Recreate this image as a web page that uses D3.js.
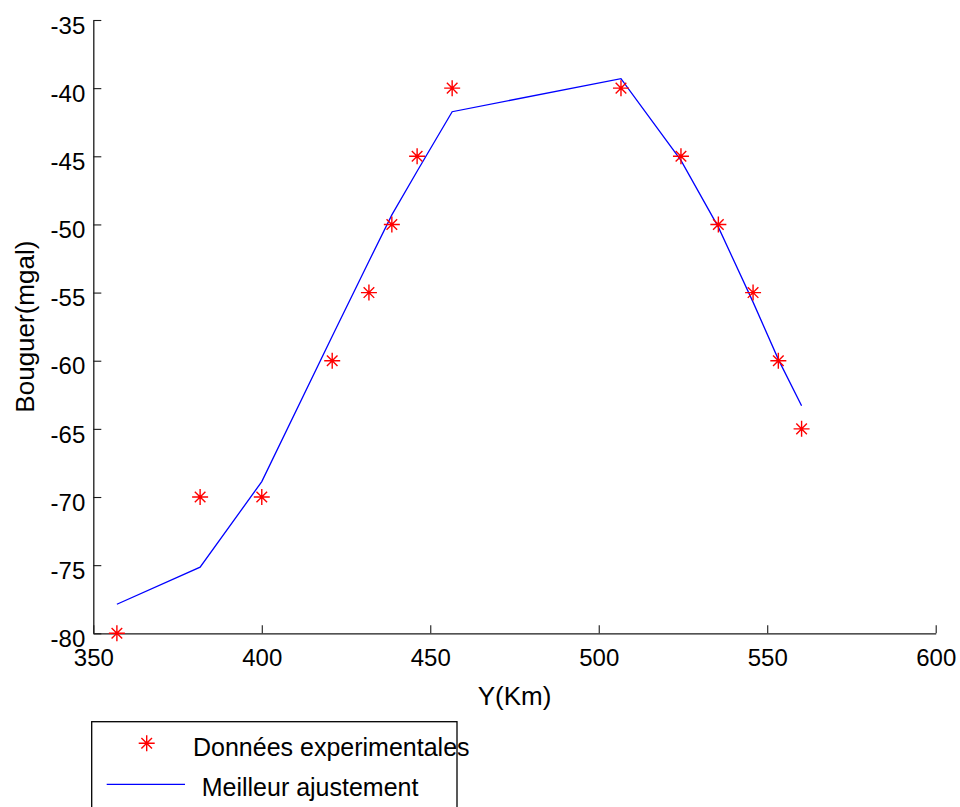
<!DOCTYPE html>
<html>
<head>
<meta charset="utf-8">
<script src="https://cdn.jsdelivr.net/npm/d3@7"></script>
<style>
  html, body { margin: 0; padding: 0; background: #fff; }
  svg { display: block; }
  text { font-family: "Liberation Sans", Arial, sans-serif; fill: #000; }
</style>
</head>
<body>
<svg id="chart" width="960" height="807"></svg>
<script>
// ---- data ----
const xValues = [357.0, 381.7, 400.0, 420.9, 431.8, 438.6, 446.1, 456.5, 506.6, 524.4, 535.5, 545.8, 553.3, 560.2];
const observed = [-80, -70, -70, -60, -55, -50, -45, -40, -40, -45, -50, -55, -60, -65];
const fitted = [-77.87, -75.15, -68.87, -58.2, -52.7, -49.3, -46.1, -41.73, -39.3, -45.3, -50.2, -55.7, -59.9, -63.3];
const xTicks = [350, 400, 450, 500, 550, 600];
const yTicks = [-80, -75, -70, -65, -60, -55, -50, -45, -40, -35];
const legendLabels = ["Données experimentales", "Meilleur ajustement"];
const xLabel = "Y(Km)";
const yLabel = "Bouguer(mgal)";

// ---- layout ----
const svg = d3.select("#chart");
const x = d3.scaleLinear().domain([350, 600]).range([93.3, 935.7]);
const y = d3.scaleLinear().domain([-80, -35]).range([633.3, 20]);

const axisColor = "#1a1a1a";

// axes
const gx = svg.append("g").attr("transform", `translate(0,${y(-80)})`)
  .call(d3.axisBottom(x).tickValues(xTicks).tickFormat(d3.format("d"))
    .tickSizeInner(-8).tickSizeOuter(0).tickPadding(15));
const gy = svg.append("g").attr("transform", `translate(${x(350)},0)`)
  .call(d3.axisLeft(y).tickValues(yTicks).tickFormat(d3.format("d"))
    .tickSizeInner(-8).tickSizeOuter(0).tickPadding(8));

[gx, gy].forEach(g => {
  g.select(".domain").attr("stroke", axisColor).attr("stroke-width", 1.3);
  g.selectAll(".tick line").attr("stroke", axisColor).attr("stroke-width", 1.1);
  g.selectAll(".tick text").attr("font-size", 24).attr("fill", "#000")
    .attr("font-family", "'Liberation Sans', Arial, sans-serif");
});
gy.selectAll(".tick text").attr("dy", "0.55em");
gx.selectAll(".tick text").attr("dy", "0.72em");
// use real minus sign look like reference (hyphen)
gy.selectAll(".tick text").text(d => String(d));

// axis labels
svg.append("text").attr("x", (x(350) + x(600)) / 2).attr("y", 705)
  .attr("text-anchor", "middle").attr("font-size", 26).text(xLabel);
svg.append("text").attr("transform", `translate(25,${(y(-35) + y(-80)) / 2}) rotate(-90)`)
  .attr("text-anchor", "middle").attr("dominant-baseline", "central")
  .attr("font-size", 26).text(yLabel);

// fit line
const line = d3.line().x((d, i) => x(xValues[i])).y(d => y(d));
svg.append("path").datum(fitted).attr("d", line)
  .attr("fill", "none").attr("stroke", "#0000ff").attr("stroke-width", 1.3);

// asterisk marker
function starPath(r, rd) {
  return `M${-r},0L${r},0M0,${-r}L0,${r}` +
    `M${-rd},${-rd}L${rd},${rd}M${-rd},${rd}L${rd},${-rd}`;
}
const star = starPath(8, 5.3);
svg.append("g").selectAll("path").data(observed).join("path")
  .attr("transform", (d, i) => `translate(${x(xValues[i])},${y(d)})`)
  .attr("d", star).attr("fill", "none").attr("stroke", "#ff0000").attr("stroke-width", 1.4);

// legend
const lg = svg.append("g");
lg.append("rect").attr("x", 91.7).attr("y", 721.7).attr("width", 365.3).attr("height", 120)
  .attr("fill", "#fff").attr("stroke", "#000").attr("stroke-width", 1.3);
lg.append("path").attr("transform", "translate(146.7,743.3)").attr("d", star)
  .attr("fill", "none").attr("stroke", "#ff0000").attr("stroke-width", 1.4);
lg.append("text").attr("x", 193).attr("y", 755.5).attr("font-size", 25).text(legendLabels[0]);
lg.append("line").attr("x1", 106.7).attr("x2", 185).attr("y1", 784.3).attr("y2", 784.3)
  .attr("stroke", "#0000ff").attr("stroke-width", 1.3);
lg.append("text").attr("x", 201.7).attr("y", 796).attr("font-size", 25).text(legendLabels[1]);
</script>
</body>
</html>
